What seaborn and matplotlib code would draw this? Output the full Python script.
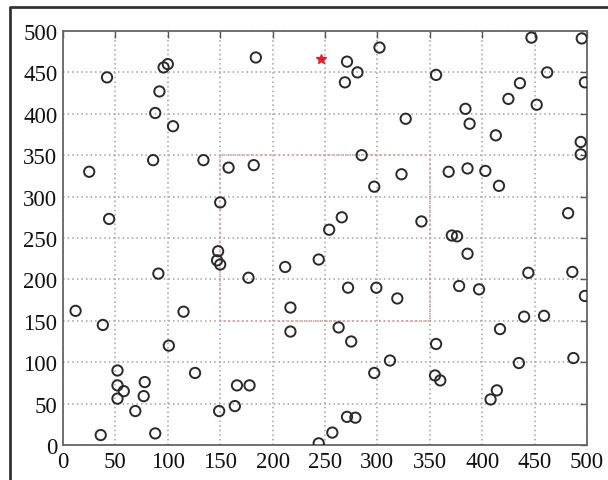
import matplotlib
matplotlib.use("Agg")
import matplotlib.pyplot as plt
from matplotlib.lines import Line2D
import pandas as pd
import seaborn as sns

# ---------------------------------------------------------------------------
# Data
# ---------------------------------------------------------------------------
node_x = [42, 96, 100, 92, 88, 105, 86, 134, 158, 182, 184, 25, 44, 150,
          271, 281, 269, 302, 356, 447, 495, 462, 498, 436, 425, 452, 384,
          388, 327, 413, 494, 494, 285, 323, 368, 386, 403, 416, 297, 482,
          266, 342, 254, 371, 376, 12, 38, 91, 148, 147, 150, 177, 212, 217,
          217, 115, 101, 126, 52, 52, 58, 52, 78, 77, 69, 36, 88, 166, 178,
          164, 149, 244, 272, 299, 319, 386, 444, 486, 378, 397, 498, 440,
          459, 417, 263, 275, 356, 312, 297, 355, 360, 435, 487, 414, 408,
          271, 279, 257, 244]
node_y = [444, 456, 460, 427, 401, 385, 344, 344, 335, 338, 468, 330, 273, 293,
          463, 450, 438, 480, 447, 492, 491, 450, 438, 437, 418, 411, 406,
          388, 394, 374, 366, 351, 350, 327, 330, 334, 331, 313, 312, 280,
          275, 270, 260, 253, 252, 162, 145, 207, 234, 223, 218, 202, 215, 166,
          137, 161, 120, 87, 90, 72, 65, 56, 76, 59, 41, 12, 14, 72, 72,
          47, 41, 224, 190, 190, 177, 231, 208, 209, 192, 188, 180, 155,
          156, 140, 142, 125, 122, 102, 87, 84, 78, 99, 105, 66, 55,
          34, 33, 15, 2]

sink_x = [246]
sink_y = [466]

region_x = [150, 350, 350, 150, 150]
region_y = [150, 150, 350, 350, 150]

ticks = [0, 50, 100, 150, 200, 250, 300, 350, 400, 450, 500]

# ---------------------------------------------------------------------------
# Style
# ---------------------------------------------------------------------------
sns.set_style("white")
plt.rcParams.update({
    "font.family": ["Liberation Serif", "DejaVu Serif"],
    "font.size": 16.5,
    "xtick.direction": "in",
    "ytick.direction": "in",
    "xtick.top": True,
    "ytick.right": True,
})

fig = plt.figure(figsize=(6.08, 4.81), dpi=100)
ax = fig.add_axes([63 / 608, 35 / 481, 524 / 608, 414 / 481])

df = pd.DataFrame({"x": node_x, "y": node_y})
sns.scatterplot(data=df, x="x", y="y", ax=ax, marker="o", s=55,
                facecolors="none", edgecolor="#2a2a2a", linewidth=1.4,
                zorder=3)
ax.plot(sink_x, sink_y, linestyle="none", marker="*", markersize=7,
        color="#e0202a", zorder=4)
ax.plot(region_x, region_y, linestyle=":", color="#e89aa4", linewidth=1.2,
        zorder=2)

ax.set_xlim(0, 500)
ax.set_ylim(0, 500)
ax.set_xticks(ticks)
ax.set_yticks(ticks)
ax.set_xlabel("")
ax.set_ylabel("")
ax.grid(True, linestyle=(0, (1, 2)), color="#a0a0a0", linewidth=1.1)
ax.tick_params(length=5, width=1, color="#555555", pad=4, labelcolor="#111111")
for sp in ax.spines.values():
    sp.set_color("#666666")
    sp.set_linewidth(1.3)

# outer frame of the original screenshot
fig.add_artist(Line2D([10 / 608, 10 / 608, 1.0], [0.0, 1 - 8 / 481, 1 - 8 / 481],
                      transform=fig.transFigure, color="#333333", linewidth=2))

fig.savefig("out.png", dpi=100)
